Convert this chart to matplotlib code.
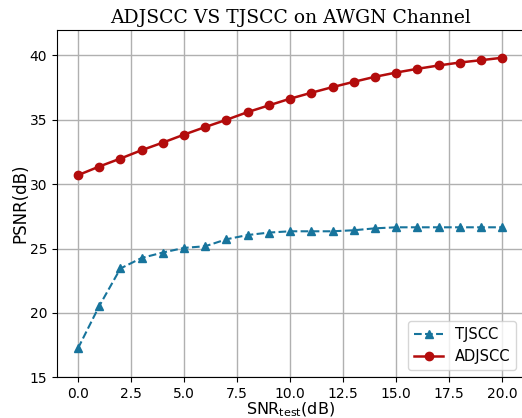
import matplotlib
matplotlib.use("Agg")
import matplotlib.pyplot as plt

snr = list(range(21))
tjscc = [17.25, 20.53, 23.45, 24.27, 24.69, 25.05, 25.18, 25.72, 26.05, 26.24, 26.34,
         26.34, 26.34, 26.42, 26.57, 26.65, 26.65, 26.65, 26.65, 26.65, 26.65]
adjscc = [30.70, 31.37, 31.99, 32.64, 33.23, 33.85, 34.44, 35.00, 35.60, 36.12, 36.64,
          37.10, 37.54, 37.95, 38.34, 38.67, 38.96, 39.22, 39.45, 39.63, 39.82]

fig = plt.figure(figsize=(5.22, 4.18), dpi=100)
ax = fig.add_axes([0.1088, 0.0974, 0.894, 0.8316])

ax.plot(snr, tjscc, "--^", color="#17749c", markersize=6, linewidth=1.5, label="TJSCC")
ax.plot(snr, adjscc, "-o", color="#b30c0c", markersize=6, linewidth=1.8, label="ADJSCC")

ax.set_xlim(-1, 21)
ax.set_ylim(15, 42)
ax.set_xticks([0, 2.5, 5, 7.5, 10, 12.5, 15, 17.5, 20])
ax.grid(True, color="#b0b0b0", linewidth=1)
ax.set_axisbelow(True)
ax.tick_params(labelsize=10)
ax.set_xlabel(r"SNR$_{\mathrm{test}}$(dB)", fontsize=11.5, va="top")
ax.xaxis.set_label_coords(0.5, -0.066)
ax.set_ylabel("PSNR(dB)", fontsize=12, va="center")
ax.yaxis.set_label_coords(-0.079, 0.5)
ax.set_title("ADJSCC VS TJSCC on AWGN Channel", fontfamily="DejaVu Serif", fontsize=13.5, pad=5)
ax.legend(loc="lower right", fontsize=10.5)

fig.savefig("out.png", dpi=100)
